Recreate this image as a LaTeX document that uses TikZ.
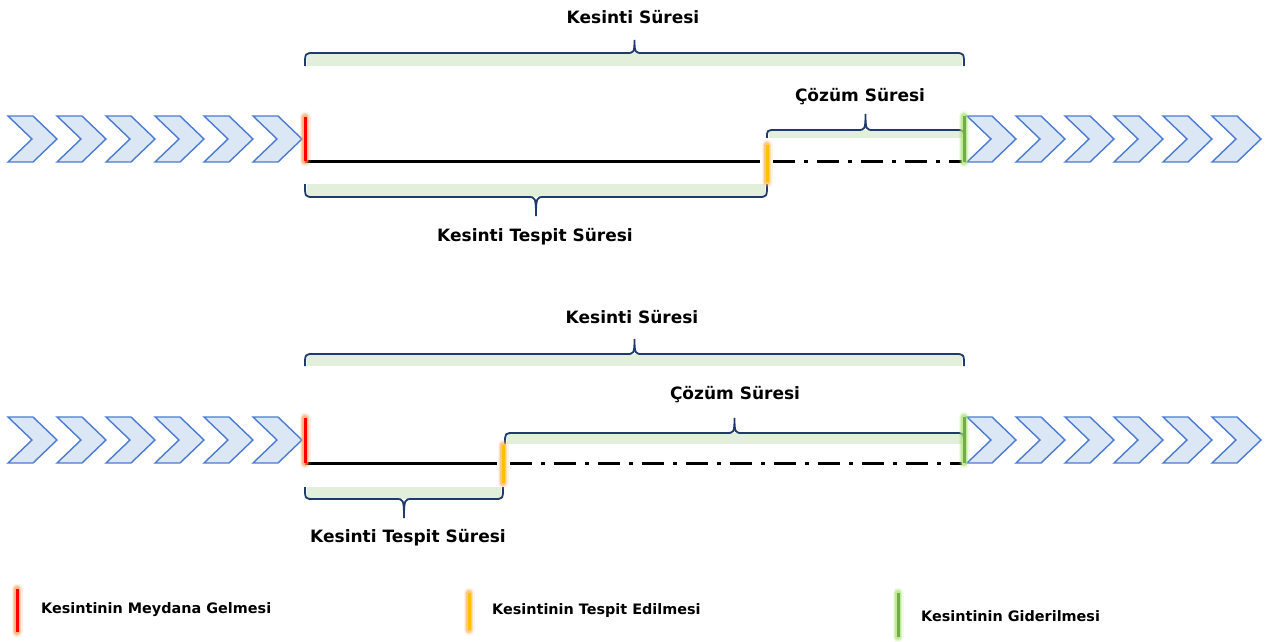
\documentclass[tikz,border=0pt]{standalone}
\usepackage{fontspec}
\setmainfont{DejaVu Sans}
\definecolor{chevfill}{HTML}{DCE7F5}
\definecolor{chevline}{HTML}{4A7BD0}
\definecolor{bracecol}{HTML}{1F3A6E}
\definecolor{bracefill}{HTML}{E2EFDA}
\definecolor{evred}{HTML}{FF0000}
\definecolor{evorange}{HTML}{FFC000}
\definecolor{evgreen}{HTML}{70AD47}
\definecolor{glowred}{HTML}{FF9A50}
\definecolor{gloworange}{HTML}{FFB060}
\definecolor{glowgreen}{HTML}{A8E070}
\tikzset{
  chevron/.style={draw=chevline, fill=chevfill, line width=1.4pt, line join=miter},
  bracestyle/.style={draw=bracecol, line width=1.8pt},
  bracebg/.style={fill=bracefill, draw=none},
  timeline/.style={line width=3pt, black},
  dashline/.style={line width=3pt, black, dash pattern=on 22pt off 9pt on 4pt off 9pt},
  label/.style={font=\fontsize{17}{20}\selectfont\bfseries, inner sep=0pt},
  legendtext/.style={font=\fontsize{14.4}{17}\selectfont\bfseries, inner sep=0pt, anchor=west},
}
% a chevron whose left edge is at x and whose centre line is at y
\newcommand\chev[2]{%
  \draw[chevron] (#1,#2-23) -- ++(25,0) -- ++(24,23) -- ++(-24,23) -- ++(-25,0) -- ++(24,-23) -- cycle;}
% brace from x1 to x2: line at y, ends at ye, tip at yt
\newcommand\bracket[5]{%
  \pgfmathsetmacro\xm{(#1+#2)/2}%
  \draw[bracestyle] (#1,#4) .. controls (#1,#3) and (#1,#3) .. (#1+9,#3) -- (\xm-8,#3)
    .. controls (\xm-1,#3) and (\xm,#3) .. (\xm,#5)
    .. controls (\xm,#3) and (\xm+1,#3) .. (\xm+8,#3) -- (#2-9,#3)
    .. controls (#2,#3) and (#2,#3) .. (#2,#4);}
% glowing event mark: colour, glow colour, start, end
\newcommand\glowline[4]{%
  \draw[#2, line width=11pt, opacity=0.15, line cap=round] #3 -- #4;
  \draw[#2, line width=8pt, opacity=0.3, line cap=round] #3 -- #4;
  \draw[#2, line width=5.5pt, opacity=0.5, line cap=round] #3 -- #4;
  \draw[#1, line width=3pt] #3 -- #4;}
\begin{document}
\begin{tikzpicture}[x=1pt, y=-1pt]
\useasboundingbox (0,0) rectangle (1269,642);

% ================= upper timeline =================
\foreach \x in {8,57,106,155,204,253} {\chev{\x}{139}}
\foreach \x in {967,1016,1065,1114,1163,1212} {\chev{\x}{139}}

\coordinate (A1) at (305,161);
\coordinate (B1) at (767,161);
\coordinate (C1) at (964,161);

% braces
\fill[bracebg] (307,53) rectangle (962,66);
\bracket{305}{964}{53}{66}{40}
\node[label] (ks1) at (633,17) {Kesinti Süresi};

\fill[bracebg] (769,130) rectangle (962,138);
\bracket{767}{964}{130}{138}{114}
\node[label] (cs1) at (860,97) {Çözüm Süresi};

\fill[bracebg] (307,184) rectangle (765,197);
\bracket{305}{767}{197}{184}{216}
\node[label] (kts1) at (535,237) {Kesinti Tespit Süresi};

% timeline
\draw[timeline] (A1) -- ([xshift=-7pt]B1);
\draw[dashline] ([xshift=6pt]B1) -- ([xshift=-2pt]C1);

\glowline{evred}{glowred}{(305,117)}{(305,161)}
\glowline{evorange}{gloworange}{(767,145)}{(767,182)}
\glowline{evgreen}{glowgreen}{(964,116)}{(964,162)}

% ================= lower timeline =================
\foreach \x in {8,57,106,155,204,253} {\chev{\x}{440}}
\foreach \x in {967,1016,1065,1114,1163,1212} {\chev{\x}{440}}

\coordinate (A2) at (305,463);
\coordinate (B2) at (503,463);
\coordinate (C2) at (964,463);

\fill[bracebg] (307,354) rectangle (962,366);
\bracket{305}{964}{354}{366}{339}
\node[label] (ks2) at (632,317) {Kesinti Süresi};

\fill[bracebg] (507,433) rectangle (962,444);
\bracket{505}{964}{433}{444}{418}
\node[label] (cs2) at (735,395) {Çözüm Süresi};

\fill[bracebg] (307,487) rectangle (501,499);
\bracket{305}{503}{499}{487}{518}
\node[label] (kts2) at (408,538) {Kesinti Tespit Süresi};

\draw[timeline] (A2) -- ([xshift=-6pt]B2);
\draw[dashline] ([xshift=7pt]B2) -- ([xshift=-2pt]C2);

\glowline{evred}{glowred}{(305,418)}{(305,463)}
\glowline{evorange}{gloworange}{(503,445)}{(503,483)}
\glowline{evgreen}{glowgreen}{(964,417)}{(964,463)}

% ================= legend =================
\glowline{evred}{glowred}{(17,589)}{(17,632)}
\node[legendtext] (lg1) at (41,610) {Kesintinin Meydana Gelmesi};
\glowline{evorange}{gloworange}{(469,593)}{(469,630)}
\node[legendtext] (lg2) at (492,611) {Kesintinin Tespit Edilmesi};
\glowline{evgreen}{glowgreen}{(898,593)}{(898,637)}
\node[legendtext] (lg3) at (921,616) {Kesintinin Giderilmesi};
\end{tikzpicture}
\end{document}
